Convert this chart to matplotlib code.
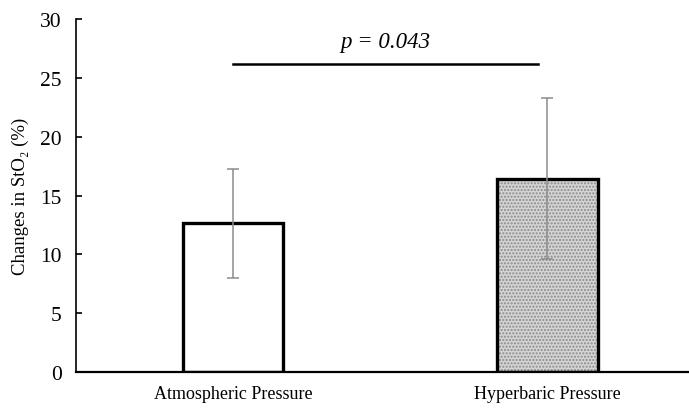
import numpy as np
import matplotlib.pyplot as plt

plt.rcParams['font.family'] = ['Liberation Serif', 'DejaVu Serif']

# Mean change in StO2 and SD for each condition
groups = ['Atmospheric Pressure', 'Hyperbaric Pressure']
means = [12.65, 16.45]
sds = [4.65, 6.85]
p_value = 0.043
sig_y = 26.2

fig = plt.figure(figsize=(6.89, 4.10), dpi=100)
ax = fig.add_axes([0.110, 0.090, 0.890, 0.861])

x = np.arange(len(groups))
width = 0.32

# first bar plain white, second one filled with a fine dotted texture
ax.bar(x[0], means[0], width, color='white', edgecolor='black', linewidth=2.4, zorder=2)
ax.bar(x[1], means[1], width, color='#d4d4d4', edgecolor='#8a8a8a', hatch='.....',
       linewidth=0, zorder=2)
ax.bar(x[1], means[1], width, color='none', edgecolor='black', linewidth=2.4, zorder=3)

ax.errorbar(x, means, yerr=sds, fmt='none', ecolor='#8c8c8c', elinewidth=1.1,
            capsize=4, capthick=1.1, zorder=4)

# significance bracket
ax.plot([x[0], x[1] - 0.03], [sig_y, sig_y], color='black', linewidth=1.8, zorder=4)
ax.text((x[0] + x[1]) / 2 - 0.015, sig_y + 1.0, 'p = %.3f' % p_value, style='italic',
        ha='center', va='bottom', fontsize=16.5)

ax.set_ylim(0, 30)
ax.set_xlim(-0.5, 1.45)
ax.set_yticks(np.arange(0, 31, 5))
ax.set_xticks(x)
ax.set_xticklabels(groups, fontsize=13)
ax.tick_params(axis='y', direction='in', length=4, width=1.2, labelsize=15.5, pad=10)
ax.tick_params(axis='x', length=0, pad=9)
ax.set_ylabel('Changes in StO₂ (%)', fontsize=13.5, labelpad=8)

for side in ['top', 'right']:
    ax.spines[side].set_visible(False)
ax.spines['left'].set_linewidth(1.2)
ax.spines['bottom'].set_linewidth(1.6)

fig.savefig('out.png', dpi=100)
